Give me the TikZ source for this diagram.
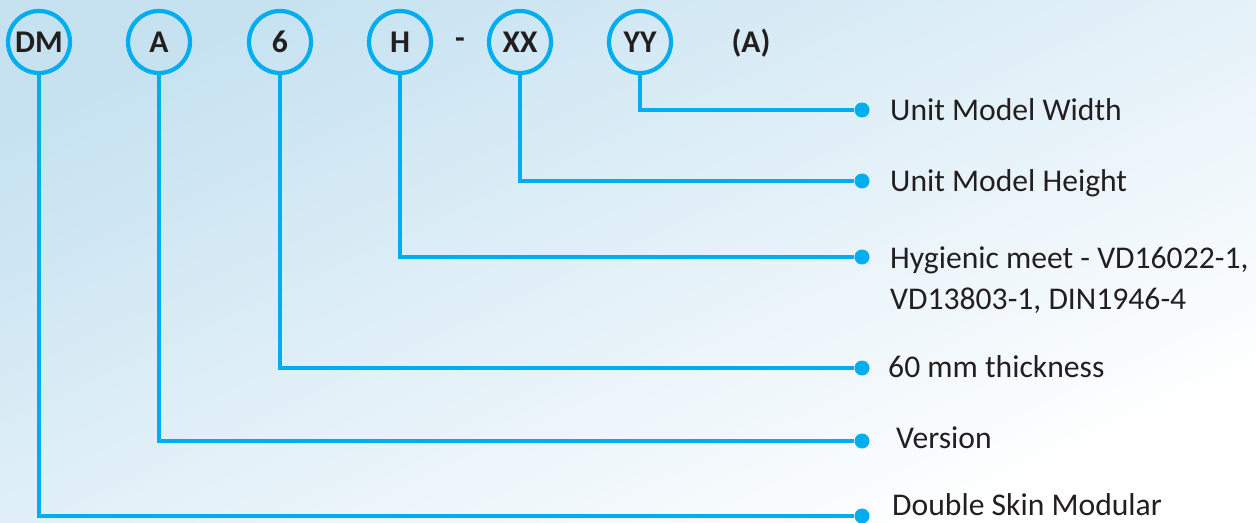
\documentclass[tikz,border=0pt]{standalone}
\usepackage{fontspec}
\setmainfont{Carlito}
\usepackage{tikz}
\usetikzlibrary{calc}

\definecolor{codecyan}{RGB}{0,174,239}
\definecolor{codeink}{RGB}{35,31,32}
\definecolor{bgblue}{RGB}{198,226,241}

\begin{document}
\begin{tikzpicture}[
		x=0.02cm, y=-0.02cm,
		letter/.style={circle,draw=codecyan,line width=2.4pt,minimum size=1.24cm,inner sep=0pt,
			text=codeink,font=\fontsize{18}{20}\selectfont\bfseries},
		plain/.style={text=codeink,font=\fontsize{18}{20}\selectfont\bfseries},
		dot/.style={circle,fill=codecyan,minimum size=0.3cm,inner sep=0pt},
		link/.style={draw=codecyan,line width=2.8pt},
		meaning/.style={anchor=west,text=codeink,align=left,font=\fontsize{18}{23}\selectfont}]
		% background
		\shade[top color=bgblue, bottom color=white, shading angle=25] (0,0) rectangle (1256,523);
		\useasboundingbox (0,0) rectangle (1256,523);

		\node[letter] (dm) at (39,42) {DM};
		\node[letter] (a)  at (159,42) {A};
		\node[letter] (six) at (280,42) {6};
		\node[letter] (h)  at (400,42) {H};
		\node[plain]  (dash) at (460,43) {-};
		\node[letter] (xx) at (520,42) {XX};
		\node[letter] (yy) at (640,42) {YY};
		\node[plain]  (opt) at (751,43) {(A)};

		\node[dot] (dyy)  at (862,110) {};
		\node[dot] (dxx)  at (862,181) {};
		\node[dot] (dh)   at (862,257) {};
		\node[dot] (dsix) at (862,368) {};
		\node[dot] (da)   at (862,441) {};
		\node[dot] (ddm)  at (862,516) {};

		\draw[link] (yy) |- (dyy);
		\draw[link] (xx) |- (dxx);
		\draw[link] (h) |- (dh);
		\draw[link] (six) |- (dsix);
		\draw[link] (a) |- (da);
		\draw[link] (dm) |- (ddm);

		\node[meaning] (lyy)  at (884,110) {Unit Model Width};
		\node[meaning] (lxx)  at (884,183) {Unit Model Height};
		\node[meaning,anchor=north west] (lh) at (884,241) {Hygienic meet - VD16022-1,\\VD13803-1, DIN1946-4};
		\node[meaning] (lsix) at (882,367) {60 mm thickness};
		\node[meaning] (la)   at (890,438) {Version};
		\node[meaning] (ldm)  at (886,505) {Double Skin Modular};
\end{tikzpicture}
\end{document}
